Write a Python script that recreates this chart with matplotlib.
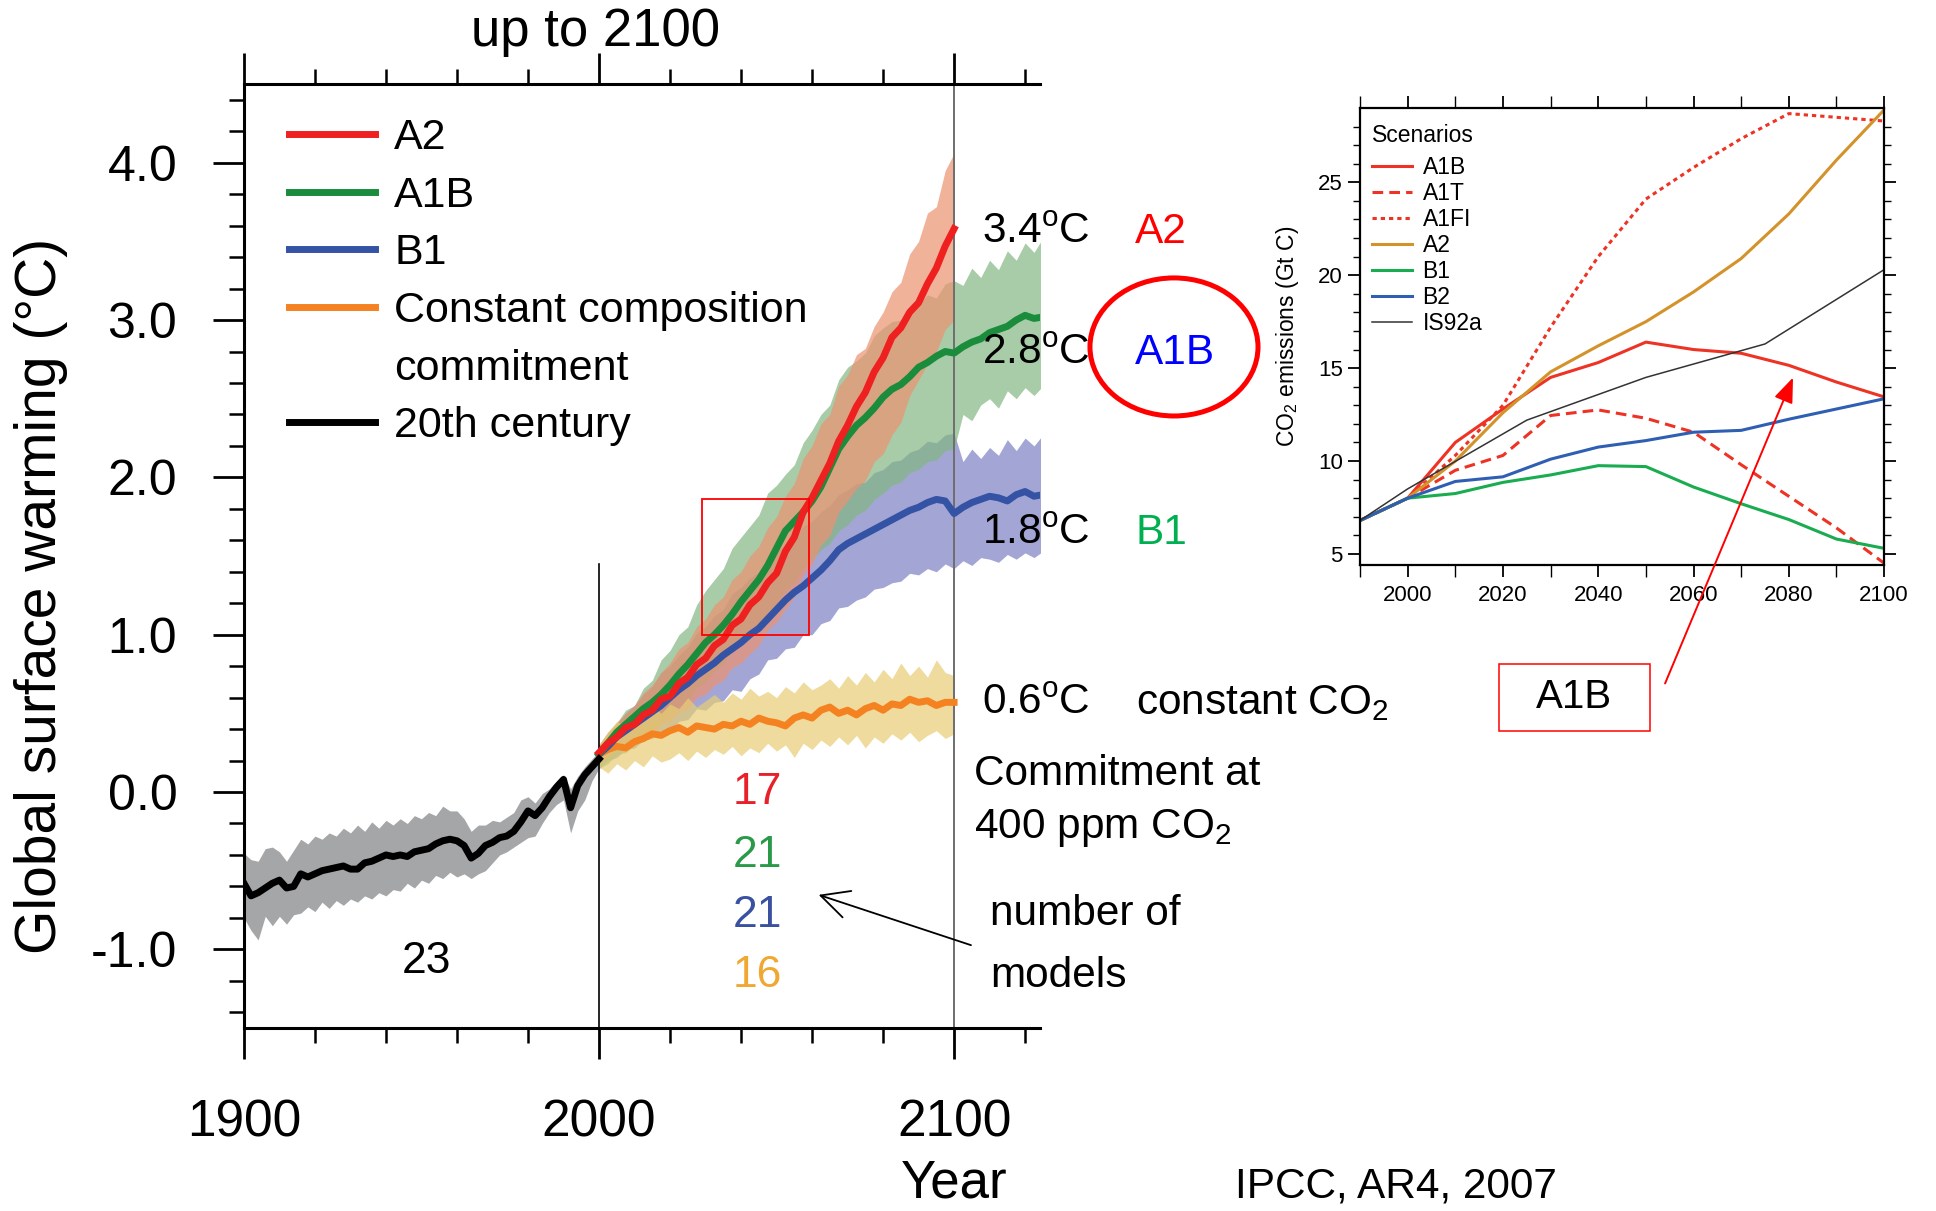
import matplotlib
matplotlib.use("Agg")
import matplotlib.pyplot as plt
import matplotlib.patches as patches
from matplotlib.lines import Line2D
import numpy as np

plt.rcParams['font.family'] = ['Liberation Sans', 'DejaVu Sans']
plt.rcParams['mathtext.fontset'] = 'custom'
plt.rcParams['mathtext.rm'] = 'Liberation Sans'
plt.rcParams['mathtext.it'] = 'Liberation Sans:italic'
plt.rcParams['mathtext.bf'] = 'Liberation Sans:bold'

# ---- 20th century simulations (multi-model mean and spread), every 2 years
years_20c = np.arange(1900, 2001, 2)
mean_20c = [-0.58, -0.66, -0.64, -0.61, -0.58, -0.56, -0.61, -0.60, -0.52, -0.54,
            -0.52, -0.50, -0.49, -0.48, -0.47, -0.49, -0.49, -0.45, -0.44, -0.42,
            -0.40, -0.41, -0.40, -0.41, -0.38, -0.37, -0.36, -0.33, -0.31, -0.30,
            -0.31, -0.34, -0.42, -0.39, -0.34, -0.32, -0.29, -0.28, -0.25, -0.19,
            -0.12, -0.15, -0.10, -0.03, 0.03, 0.08, -0.10, 0.04, 0.11, 0.16,
            0.21]
hi_20c = [-0.39, -0.43, -0.44, -0.36, -0.35, -0.38, -0.44, -0.37, -0.30, -0.33,
          -0.28, -0.30, -0.26, -0.28, -0.23, -0.26, -0.21, -0.25, -0.19, -0.23,
          -0.18, -0.21, -0.17, -0.20, -0.15, -0.17, -0.13, -0.15, -0.09, -0.12,
          -0.12, -0.17, -0.25, -0.21, -0.21, -0.18, -0.19, -0.16, -0.13, -0.05,
          -0.03, -0.07, -0.01, 0.02, 0.07, 0.11, 0.02, 0.10, 0.16, 0.21,
          0.26]
lo_20c = [-0.80, -0.88, -0.94, -0.79, -0.85, -0.79, -0.84, -0.78, -0.77, -0.73,
          -0.76, -0.70, -0.74, -0.69, -0.72, -0.68, -0.70, -0.66, -0.68, -0.64,
          -0.66, -0.62, -0.63, -0.58, -0.61, -0.56, -0.58, -0.53, -0.55, -0.51,
          -0.54, -0.52, -0.55, -0.52, -0.50, -0.45, -0.40, -0.38, -0.35, -0.32,
          -0.29, -0.28, -0.20, -0.13, -0.08, -0.05, -0.26, -0.12, -0.05, 0.07,
          0.15]

# ---- scenario projections, every 2.5 years (A1B and B1 run on past 2100)
years_scen = np.arange(2000, 2100.1, 2.5)
years_ext = np.arange(2000, 2125.1, 2.5)

a2_mean = [0.25, 0.31, 0.35, 0.41, 0.43, 0.49, 0.52, 0.59, 0.61, 0.69,
           0.73, 0.81, 0.85, 0.93, 0.97, 1.06, 1.10, 1.19, 1.24, 1.33,
           1.39, 1.53, 1.62, 1.78, 1.87, 1.98, 2.09, 2.23, 2.33, 2.45,
           2.54, 2.67, 2.76, 2.89, 2.95, 3.05, 3.11, 3.23, 3.33, 3.47,
           3.58]
a2_hi = [0.30, 0.38, 0.44, 0.50, 0.55, 0.63, 0.68, 0.76, 0.82, 0.91,
         0.95, 1.05, 1.10, 1.19, 1.24, 1.35, 1.40, 1.50, 1.56, 1.68,
         1.75, 1.88, 1.96, 2.12, 2.20, 2.34, 2.40, 2.58, 2.65, 2.78,
         2.82, 2.96, 3.05, 3.18, 3.24, 3.42, 3.50, 3.68, 3.72, 3.95,
         4.06]
a2_lo = [0.18, 0.22, 0.27, 0.26, 0.30, 0.35, 0.37, 0.43, 0.45, 0.51,
         0.53, 0.60, 0.62, 0.68, 0.71, 0.79, 0.82, 0.88, 0.93, 1.03,
         1.08, 1.16, 1.24, 1.38, 1.45, 1.57, 1.63, 1.78, 1.85, 1.93,
         1.98, 2.10, 2.15, 2.27, 2.35, 2.52, 2.62, 2.72, 2.80, 2.94,
         3.00]

a1b_mean = [0.24, 0.31, 0.38, 0.43, 0.48, 0.53, 0.57, 0.62, 0.68, 0.75,
            0.81, 0.88, 0.95, 1.00, 1.06, 1.13, 1.21, 1.28, 1.35, 1.44,
            1.55, 1.66, 1.72, 1.78, 1.85, 1.94, 2.06, 2.18, 2.26, 2.33,
            2.38, 2.44, 2.51, 2.56, 2.59, 2.64, 2.70, 2.73, 2.77, 2.80,
            2.79, 2.83, 2.86, 2.88, 2.92, 2.94, 2.96, 3.00, 3.03, 3.01,
            3.02]
a1b_hi = [0.30, 0.38, 0.44, 0.52, 0.55, 0.66, 0.71, 0.84, 0.90, 1.00,
          1.05, 1.19, 1.28, 1.35, 1.42, 1.55, 1.62, 1.69, 1.76, 1.90,
          1.95, 2.02, 2.08, 2.22, 2.30, 2.40, 2.46, 2.62, 2.70, 2.74,
          2.79, 2.90, 2.95, 2.99, 3.00, 3.08, 3.10, 3.16, 3.14, 3.23,
          3.25, 3.22, 3.33, 3.27, 3.38, 3.32, 3.44, 3.38, 3.49, 3.43,
          3.52]
a1b_lo = [0.15, 0.18, 0.24, 0.25, 0.30, 0.36, 0.39, 0.45, 0.48, 0.55,
          0.58, 0.66, 0.70, 0.77, 0.81, 0.90, 0.95, 1.00, 1.07, 1.13,
          1.20, 1.28, 1.33, 1.42, 1.48, 1.54, 1.58, 1.66, 1.70, 1.76,
          1.79, 1.86, 1.90, 1.95, 1.97, 2.03, 2.05, 2.10, 2.11, 2.17,
          2.18, 2.40, 2.36, 2.46, 2.50, 2.44, 2.55, 2.50, 2.57, 2.52,
          2.58]

b1_mean = [0.24, 0.29, 0.35, 0.39, 0.43, 0.47, 0.51, 0.55, 0.60, 0.65,
           0.69, 0.74, 0.78, 0.82, 0.87, 0.91, 0.95, 1.00, 1.04, 1.10,
           1.16, 1.22, 1.27, 1.31, 1.36, 1.41, 1.47, 1.54, 1.58, 1.61,
           1.64, 1.67, 1.70, 1.73, 1.76, 1.79, 1.81, 1.84, 1.86, 1.85,
           1.77, 1.81, 1.84, 1.86, 1.88, 1.87, 1.85, 1.89, 1.91, 1.88,
           1.89]
b1_hi = [0.30, 0.36, 0.43, 0.50, 0.55, 0.62, 0.67, 0.76, 0.80, 0.87,
         0.92, 1.01, 1.05, 1.12, 1.16, 1.26, 1.30, 1.36, 1.40, 1.49,
         1.52, 1.58, 1.61, 1.69, 1.72, 1.78, 1.82, 1.89, 1.92, 1.96,
         1.97, 2.03, 2.05, 2.10, 2.11, 2.16, 2.18, 2.23, 2.22, 2.27,
         2.28, 2.10, 2.18, 2.12, 2.19, 2.14, 2.24, 2.17, 2.25, 2.20,
         2.27]
b1_lo = [0.15, 0.20, 0.22, 0.27, 0.28, 0.33, 0.34, 0.39, 0.38, 0.45,
         0.46, 0.53, 0.52, 0.57, 0.58, 0.65, 0.64, 0.72, 0.75, 0.84,
         0.85, 0.91, 0.92, 1.00, 1.00, 1.07, 1.09, 1.17, 1.18, 1.22,
         1.24, 1.29, 1.30, 1.33, 1.34, 1.39, 1.38, 1.42, 1.40, 1.45,
         1.42, 1.47, 1.44, 1.49, 1.48, 1.46, 1.51, 1.48, 1.52, 1.49,
         1.53]

const_mean = [0.24, 0.27, 0.29, 0.28, 0.32, 0.34, 0.37, 0.36, 0.39, 0.41,
              0.38, 0.42, 0.41, 0.40, 0.43, 0.42, 0.45, 0.43, 0.47, 0.45,
              0.44, 0.42, 0.47, 0.49, 0.47, 0.52, 0.54, 0.50, 0.52, 0.49,
              0.53, 0.55, 0.52, 0.56, 0.55, 0.59, 0.57, 0.58, 0.55, 0.57,
              0.57]
const_hi = [0.30, 0.38, 0.45, 0.42, 0.50, 0.47, 0.55, 0.50, 0.56, 0.53,
            0.60, 0.54, 0.58, 0.62, 0.57, 0.63, 0.59, 0.66, 0.61, 0.64,
            0.60, 0.67, 0.63, 0.70, 0.65, 0.68, 0.72, 0.66, 0.74, 0.68,
            0.76, 0.70, 0.78, 0.72, 0.82, 0.74, 0.80, 0.73, 0.84, 0.76,
            0.74]
const_lo = [0.16, 0.12, 0.18, 0.14, 0.20, 0.16, 0.23, 0.19, 0.21, 0.25,
            0.20, 0.26, 0.22, 0.27, 0.24, 0.29, 0.23, 0.28, 0.25, 0.31,
            0.26, 0.30, 0.22, 0.31, 0.27, 0.33, 0.29, 0.35, 0.30, 0.36,
            0.28, 0.35, 0.31, 0.37, 0.33, 0.38, 0.32, 0.36, 0.39, 0.34,
            0.37]

# number of models per experiment
n_models_20c = 23
n_models = [17, 21, 21, 16]
n_models_colors = ['#e8202a', '#2a9a48', '#3a50a0', '#f0a830']

# warming at the end of the century
warming_labels = ['3.4', '2.8', '1.8', '0.6']

# ---- SRES CO2 emissions (Gt C)
years_co2 = np.arange(1990, 2101, 10)
co2_a1b = [6.8, 8.0, 11.0, 12.8, 14.5, 15.3, 16.4, 16.0, 15.8, 15.15, 14.25, 13.45]
co2_a1t = [6.8, 8.0, 9.5, 10.3, 12.45, 12.75, 12.3, 11.55, 9.8, 8.1, 6.4, 4.5]
co2_a1fi = [6.8, 8.0, 10.3, 13.0, 17.2, 21.0, 24.1, 25.8, 27.35, 28.7, 28.5, 28.3]
co2_a2 = [6.8, 8.0, 10.0, 12.6, 14.8, 16.2, 17.5, 19.1, 20.9, 23.3, 26.2, 28.9]
co2_b1 = [6.8, 8.0, 8.25, 8.85, 9.25, 9.75, 9.7, 8.6, 7.7, 6.85, 5.8, 5.3]
co2_b2 = [6.8, 8.0, 8.9, 9.15, 10.1, 10.75, 11.1, 11.55, 11.65, 12.25, 12.8, 13.35]
years_is92a = [1990, 2000, 2025, 2050, 2075, 2100]
co2_is92a = [6.8, 8.5, 12.2, 14.5, 16.3, 20.3]


fig = plt.figure(figsize=(19.36, 12.11), dpi=100)

# ================= temperature panel =================
ax = fig.add_axes([0.126, 0.1511, 0.4112, 0.7795])

ax.fill_between(years_20c, lo_20c, hi_20c, color='#9a9c9e', alpha=0.9, lw=0, zorder=1)
ax.fill_between(years_ext, b1_lo, b1_hi, color='#7d80c4', alpha=0.7, lw=0, zorder=1)
ax.fill_between(years_ext, a1b_lo, a1b_hi, color='#83b683', alpha=0.7, lw=0, zorder=1)
ax.fill_between(years_scen, a2_lo, a2_hi, color='#ec9270', alpha=0.7, lw=0, zorder=1)
ax.fill_between(years_scen, const_lo, const_hi, color='#e7cd74', alpha=0.7, lw=0, zorder=1)

ax.plot([2000, 2000], [-1.5, 1.45], color='black', lw=1.2, zorder=2)
ax.axvline(2100, color='#6e6e6e', lw=1.4, zorder=2)

lw = 5
l_const, = ax.plot(years_scen, const_mean, color='#f58220', lw=lw, zorder=3)
l_b1, = ax.plot(years_ext, b1_mean, color='#3553a5', lw=lw, zorder=3)
l_a1b, = ax.plot(years_ext, a1b_mean, color='#1a8c3c', lw=lw, zorder=3)
l_a2, = ax.plot(years_scen, a2_mean, color='#ee2020', lw=lw, zorder=3)
l_20c, = ax.plot(years_20c, mean_20c, color='black', lw=lw, zorder=3)

ax.add_patch(patches.Rectangle((2029, 1.0), 30, 0.86, fill=False,
                               ec='red', lw=1.3, zorder=5))

ax.set_xlim(1900, 2124.2)
ax.set_ylim(-1.5, 4.5)
ax.set_xticks([1900, 2000, 2100])
ax.set_xticks(np.arange(1920, 2124, 20), minor=True)
ax.set_yticks([-1, 0, 1, 2, 3, 4])
ax.set_yticklabels(['-1.0', '0.0', '1.0', '2.0', '3.0', '4.0'])
ax.set_yticks(np.arange(-1.4, 4.5, 0.2), minor=True)
ax.spines['right'].set_visible(False)
for s in ['left', 'top', 'bottom']:
    ax.spines[s].set_linewidth(2.2)
ax.tick_params(which='both', direction='out', top=True, bottom=True,
               left=True, right=False, labeltop=False)
ax.tick_params(which='major', length=22, width=2.0)
ax.tick_params(which='minor', length=10.5, width=1.8)
ax.tick_params(axis='y', labelsize=36, pad=26)
ax.tick_params(axis='x', labelsize=37, pad=29)

for n, c, yy in zip(n_models, n_models_colors, [-0.076, -0.474, -0.857, -1.241]):
    ax.text(2044.5, yy, str(n), color=c, fontsize=32, ha='center', va='baseline')
ax.text(1951.3, -1.152, str(n_models_20c), color='black', fontsize=32,
        ha='center', va='baseline')

blank = Line2D([], [], color='none')
ax.legend([l_a2, l_a1b, l_b1, l_const, blank, l_20c],
          ['A2', 'A1B', 'B1', 'Constant composition', 'commitment', '20th century'],
          loc='upper left', bbox_to_anchor=(0.0565, 0.964), frameon=False,
          fontsize=31, handlelength=2.0, handletextpad=0.45, labelspacing=0.41,
          borderpad=0, borderaxespad=0)

fig.text(0.3074, 0.9623, 'up to 2100', ha='center', va='baseline', fontsize=38)
fig.text(0.4928, 0.011, 'Year', ha='center', va='baseline', fontsize=38)
fig.text(0.021, 0.508, 'Global surface warming (°C)', rotation=90,
         ha='center', va='center', fontsize=41)

# end-of-century labels
rows = [0.7993, 0.6997, 0.5511, 0.4105]
for w, yy in zip(warming_labels, rows):
    fig.text(0.5071, yy, w + r'$^{\mathrm{o}}$C', fontsize=30.5, va='baseline')
fig.text(0.5863, rows[0], 'A2', color='#ff0000', fontsize=30.5, va='baseline')
fig.text(0.5863, rows[1], 'A1B', color='#0000ff', fontsize=30.5, va='baseline')
fig.text(0.5863, rows[2], 'B1', color='#00b050', fontsize=30.5, va='baseline')
fig.text(0.5868, rows[3], r'constant CO$_2$', fontsize=30.5, va='baseline')
fig.text(0.5029, 0.3518, 'Commitment at', fontsize=30.5, va='baseline')
fig.text(0.5029, 0.3084, r'400 ppm CO$_2$', fontsize=30.5, va='baseline')
fig.text(0.5116, 0.2362, 'number of', fontsize=30.5, va='baseline')
fig.text(0.5116, 0.185, 'models', fontsize=30.5, va='baseline')
fig.add_artist(patches.FancyArrowPatch((0.5029, 0.2188), (0.4215, 0.2618),
                                       transform=fig.transFigure,
                                       arrowstyle='->,head_length=0.8,head_width=0.4',
                                       mutation_scale=25, color='black', lw=1.3))

fig.add_artist(patches.Ellipse((0.6064, 0.7135), 0.0868, 0.114,
                               transform=fig.transFigure, fill=False,
                               ec='red', lw=3.6))

# ================= emissions inset =================
ax2 = fig.add_axes([0.7025, 0.5334, 0.2707, 0.3774])
ax2.plot(years_co2, co2_a1b, color='#ee3324', lw=2.2, label='A1B')
ax2.plot(years_co2, co2_a1t, color='#ee3324', lw=2.2, ls=(0, (3.5, 2)), label='A1T')
ax2.plot(years_co2, co2_a1fi, color='#ee3324', lw=2.2, ls=(0, (1.4, 1.3)), label='A1FI')
ax2.plot(years_co2, co2_a2, color='#d4922a', lw=2.2, label='A2')
ax2.plot(years_co2, co2_b1, color='#1aac50', lw=2.2, label='B1')
ax2.plot(years_co2, co2_b2, color='#2f5fb3', lw=2.2, label='B2')
ax2.plot(years_is92a, co2_is92a, color='#333333', lw=1.1, label='IS92a')

ax2.set_xlim(1990, 2100)
ax2.set_ylim(4.4, 29)
ax2.set_xticks(np.arange(2000, 2101, 20))
ax2.set_xticks(np.arange(1990, 2101, 10), minor=True)
ax2.set_yticks([5, 10, 15, 20, 25])
ax2.set_yticks(np.arange(5, 29, 1), minor=True)
for s in ax2.spines.values():
    s.set_linewidth(1.6)
ax2.tick_params(which='both', direction='out', top=True, right=True, labelsize=16)
ax2.tick_params(which='major', length=8.5, width=1.3)
ax2.tick_params(which='minor', length=5, width=1.0)
ax2.tick_params(axis='x', which='minor', length=8.5)
ax2.tick_params(axis='y', pad=4)
ax2.tick_params(axis='x', pad=6)
ax2.set_ylabel(r'CO$_2$ emissions (Gt C)', fontsize=16.5, labelpad=12)
ax2.text(0.023, 0.939, 'Scenarios', transform=ax2.transAxes, fontsize=16.5,
         ha='left', va='center')
ax2.legend(loc='upper left', bbox_to_anchor=(0.023, 0.895),
           frameon=False, fontsize=16.5,
           handlelength=1.75, handletextpad=0.45, labelspacing=0.13,
           borderpad=0, borderaxespad=0)

# highlight box and pointer to the A1B emissions path
fig.add_artist(patches.Rectangle((0.7743, 0.3964), 0.078, 0.0553,
                                 transform=fig.transFigure, fill=False,
                                 ec='red', lw=1.1))
fig.text(0.813, 0.4245, 'A1B', ha='center', va='center', fontsize=29)
fig.add_artist(patches.FancyArrowPatch((0.8595, 0.4335), (0.9267, 0.6903),
                                       transform=fig.transFigure,
                                       arrowstyle='-|>,head_length=0.9,head_width=0.35',
                                       mutation_scale=17, color='red', lw=1.4))

fig.text(0.638, 0.011, 'IPCC, AR4, 2007', fontsize=30.5, va='baseline')

fig.savefig('out.png', dpi=100)
